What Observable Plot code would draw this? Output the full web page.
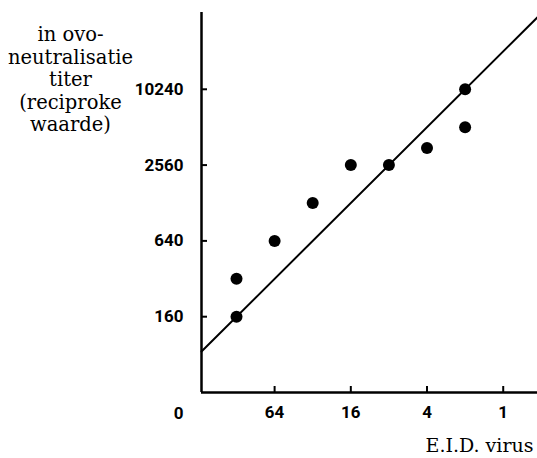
<!DOCTYPE html>
<html>
<head>
<meta charset="utf-8">
<script src="https://cdn.jsdelivr.net/npm/d3@7"></script>
<script src="https://cdn.jsdelivr.net/npm/@observablehq/plot@0.6"></script>
<style>
  html, body { margin: 0; padding: 0; background: #fff; }
</style>
</head>
<body>
<div id="chart"></div>
<script>
// Data
const xTicks = [64, 16, 4, 1];
const yTicks = [160, 640, 2560, 10240];
const pointX = [128, 128, 64, 32, 16, 8, 4, 2, 2];
const pointY = [160, 320, 640, 1280, 2560, 2560, 3500, 10240, 5120];
const lineX = [242, 0.536];
const lineY = [84.6, 38200];
const yTitle = ["in ovo-", "neutralisatie", "titer", "(reciproke", "waarde)"];
const xTitle = "E.I.D. virus";
const originLabel = "0";

const xDomain = [242, 0.536];
const yDomain = [40, 41700];

const points = pointX.map((x, i) => ({x, y: pointY[i]}));
const fitLine = lineX.map((x, i) => ({x, y: lineY[i]}));

const tickFont = "Roboto, sans-serif";
const serif = "'DejaVu Serif', serif";

const chart = Plot.plot({
  width: 537,
  height: 458,
  marginLeft: 201,
  marginRight: 0,
  marginTop: 12,
  marginBottom: 66,
  style: {background: "#fff", color: "#000", overflow: "visible"},
  x: {type: "log", base: 2, domain: xDomain, label: null},
  y: {type: "log", base: 2, domain: yDomain, label: null},
  marks: [
    // tick labels
    Plot.axisY({ticks: yTicks, tickSize: 0, tickPadding: 18, tickFormat: d => String(d), label: null,
      fontSize: 17, fontWeight: "bold", fontFamily: tickFont}),
    Plot.axisX({ticks: xTicks, tickSize: 0, tickPadding: 13, tickFormat: d => String(d), label: null,
      fontSize: 17, fontWeight: "bold", fontFamily: tickFont}),
    // inward tick marks
    Plot.axisY({ticks: yTicks, tickSize: 6, dx: 6, text: null, label: null, strokeWidth: 2}),
    Plot.axisX({ticks: xTicks, tickSize: 6, dy: -6, text: null, label: null, strokeWidth: 2}),
    // axis lines
    Plot.ruleX([xDomain[0]], {strokeWidth: 2.5}),
    Plot.ruleY([yDomain[0]], {strokeWidth: 2.5}),
    // fit line
    Plot.line(fitLine, {x: "x", y: "y", strokeWidth: 2}),
    // points
    Plot.dot(points, {x: "x", y: "y", r: 6, fill: "#000", stroke: "none"}),
    // origin label
    Plot.text([originLabel], {frameAnchor: "bottom-left", dx: -23, dy: 21, fontSize: 17,
      fontWeight: "bold", fontFamily: tickFont, textAnchor: "middle", lineAnchor: "middle"}),
    // titles
    Plot.text([yTitle.join("\n")], {frameAnchor: "top-left", dx: -131, dy: 13, textAnchor: "middle",
      lineAnchor: "top", lineHeight: 1.15, fontSize: 19.5, fontFamily: serif}),
    Plot.text([xTitle], {frameAnchor: "bottom-right", dx: -4, dy: 53, textAnchor: "end",
      lineAnchor: "middle", fontSize: 19, fontFamily: serif})
  ]
});
document.getElementById("chart").append(chart);
</script>
</body>
</html>
